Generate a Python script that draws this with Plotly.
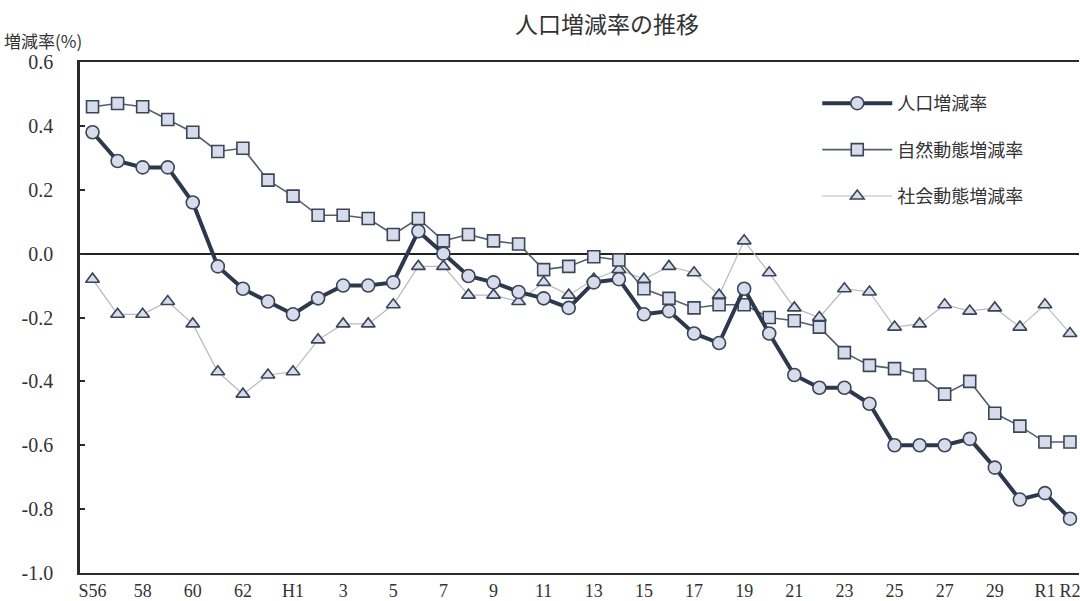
import plotly.graph_objects as go

years = ["S56", "S57", "S58", "S59", "S60", "S61", "S62", "S63"] + \
        ["H%d" % i for i in range(1, 31)] + ["R1", "R2"]

tick_vals = ["S56", "S58", "S60", "S62", "H1", "H3", "H5", "H7", "H9", "H11", "H13",
             "H15", "H17", "H19", "H21", "H23", "H25", "H27", "H29", "R1", "R2"]
tick_text = ["S56", "58", "60", "62", "H1", "3", "5", "7", "9", "11", "13",
             "15", "17", "19", "21", "23", "25", "27", "29", "R1", "R2"]

population = [0.38, 0.29, 0.27, 0.27, 0.16, -0.04, -0.11, -0.15, -0.19, -0.14,
              -0.10, -0.10, -0.09, 0.07, 0.00, -0.07, -0.09, -0.12, -0.14, -0.17,
              -0.09, -0.08, -0.19, -0.18, -0.25, -0.28, -0.11, -0.25, -0.38, -0.42,
              -0.42, -0.47, -0.60, -0.60, -0.60, -0.58, -0.67, -0.77, -0.75, -0.83]

natural = [0.46, 0.47, 0.46, 0.42, 0.38, 0.32, 0.33, 0.23, 0.18, 0.12,
           0.12, 0.11, 0.06, 0.11, 0.04, 0.06, 0.04, 0.03, -0.05, -0.04,
           -0.01, -0.02, -0.11, -0.14, -0.17, -0.16, -0.16, -0.20, -0.21, -0.23,
           -0.31, -0.35, -0.36, -0.38, -0.44, -0.40, -0.50, -0.54, -0.59, -0.59]

social = [-0.08, -0.19, -0.19, -0.15, -0.22, -0.37, -0.44, -0.38, -0.37, -0.27,
          -0.22, -0.22, -0.16, -0.04, -0.04, -0.13, -0.13, -0.15, -0.09, -0.13,
          -0.08, -0.05, -0.08, -0.04, -0.06, -0.13, 0.04, -0.06, -0.17, -0.20,
          -0.11, -0.12, -0.23, -0.22, -0.16, -0.18, -0.17, -0.23, -0.16, -0.25]

y_ticks = [0.6, 0.4, 0.2, 0.0, -0.2, -0.4, -0.6, -0.8, -1.0]
y_tick_text = ["%.1f" % v for v in y_ticks]

CJK = "Noto Sans CJK JP"
SERIF = "Liberation Serif"
fill = "#d6dcea"
edge = "#3b4558"

fig = go.Figure()

fig.add_trace(go.Scatter(
    x=years, y=social, name="社会動態増減率", mode="lines+markers",
    legendgroup="c", legendrank=3,
    line=dict(color="#b9b9b9", width=1.2),
    marker=dict(symbol="triangle-up", size=12, color=fill, line=dict(color=edge, width=1.6)),
))
fig.add_trace(go.Scatter(
    x=years, y=natural, name="自然動態増減率", mode="lines+markers",
    legendgroup="b", legendrank=2,
    line=dict(color="#555d6c", width=1.6),
    marker=dict(symbol="square", size=12, color=fill, line=dict(color=edge, width=1.6)),
))
fig.add_trace(go.Scatter(
    x=years, y=population, name="人口増減率", mode="lines+markers",
    legendgroup="a", legendrank=1,
    line=dict(color="#2c384c", width=4),
    marker=dict(symbol="circle", size=13, color=fill, line=dict(color=edge, width=1.6)),
))

fig.update_layout(
    width=1080, height=601,
    margin=dict(l=80, r=0, t=62, b=25),
    paper_bgcolor="white", plot_bgcolor="white",
    title=dict(text="人口増減率の推移", x=0.562, xanchor="center", y=0.958, yanchor="middle",
               yref="container", font=dict(family=CJK, size=23, color="#333")),
    showlegend=True,
    legend=dict(x=0.738, y=0.955, xanchor="left", yanchor="top",
                bgcolor="rgba(0,0,0,0)", tracegroupgap=20, itemwidth=70,
                font=dict(family=CJK, size=18, color="#333")),
    xaxis=dict(
        type="category", categoryorder="array", categoryarray=years,
        range=[-0.5, 39.36], tickmode="array", tickvals=tick_vals, ticktext=tick_text,
        showline=True, linecolor="#2a2a2a", linewidth=2, mirror=True,
        ticks="", showgrid=False, zeroline=False,
        tickfont=dict(family=SERIF, size=18, color="#333"),
    ),
    yaxis=dict(
        range=[-1.0, 0.6], tickmode="array", tickvals=y_ticks, ticktext=y_tick_text,
        showline=True, linecolor="#2a2a2a", linewidth=2.5, mirror=False,
        ticks="inside", ticklen=5, tickcolor="#2a2a2a", tickwidth=1.5,
        ticklabelstandoff=20,
        showgrid=False, zeroline=True, zerolinecolor="#222", zerolinewidth=1.6,
        tickfont=dict(family=SERIF, size=20, color="#333"),
    ),
    annotations=[dict(
        text="増減率(%)", xref="paper", yref="paper", x=-0.078, y=1.043,
        xanchor="left", yanchor="middle", showarrow=False,
        font=dict(family=CJK, size=17, color="#333"),
    )],
)

fig.write_html("out.html")
